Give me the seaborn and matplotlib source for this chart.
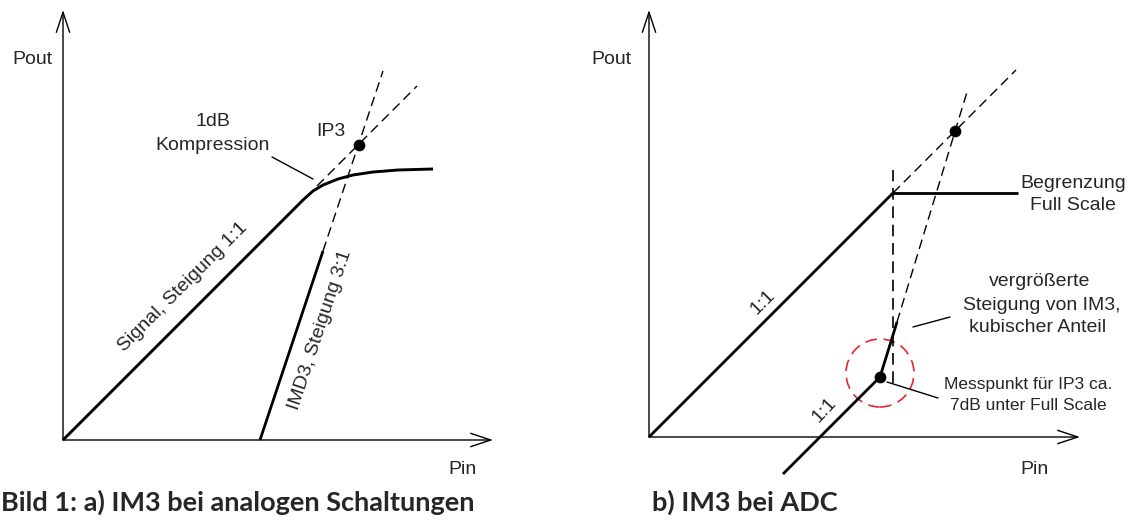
import matplotlib
matplotlib.use("Agg")
import matplotlib.pyplot as plt
import seaborn as sns
from matplotlib.patches import Circle

# ---- Panel a): analogue circuit (Pin / Pout in relative dB units) ----
signal_a_x = [0, 240, 250, 260, 275, 290, 310, 335, 370]
signal_a_y = [0, 240, 249, 255, 261, 265, 268, 270, 271]
signal_ext_a_x = [254, 354]
signal_ext_a_y = [254, 354]
imd3_a_x = [197, 260]
imd3_a_y = [0, 189]
imd3_ext_a_x = [260, 320]
imd3_ext_a_y = [189, 369]
ip3_a = (295.5, 295.5)

# ---- Panel b): ADC ----
signal_b_x = [0, 244]
signal_b_y = [0, 244]
fullscale_b_x = [244, 369]
fullscale_b_y = [244, 244]
signal_ext_b_x = [244, 367]
signal_ext_b_y = [244, 367]
fs_marker_x = [244, 244]
fs_marker_y = [54, 267]
im3_low_x = [134, 231]
im3_low_y = [-37, 60]
im3_steep_x = [231, 248]
im3_steep_y = [60, 115]
im3_ext_x = [248, 318]
im3_ext_y = [115, 345]
ip3_b = (306, 306)
meas_b = (231, 60)

sns.set_theme(style="white")
plt.rcParams["font.family"] = ["Liberation Sans", "DejaVu Sans"]

W, H = 1131, 522
fig = plt.figure(figsize=(W / 100, H / 100), dpi=100)
fig.patch.set_facecolor("white")

ax_a = fig.add_axes([0, 0, 0.5, 1])
ax_b = fig.add_axes([0.5, 0, 0.5, 1])
ax_a.set_xlim(-63, 502.5)
ax_a.set_ylim(-82, 440)
ax_b.set_xlim(-83.5, 482)
ax_b.set_ylim(-85, 437)
for ax in (ax_a, ax_b):
    ax.set_axis_off()

DASH = (7, 4)
TXT = 14


def axis_arrows(ax, xmax, ymax):
    style = "->,head_length=1.45,head_width=0.48"
    for end in [(xmax, 0), (0, ymax)]:
        ax.annotate("", xy=end, xytext=(0, 0),
                    arrowprops=dict(arrowstyle=style, lw=1.0, color="black",
                                    shrinkA=0, shrinkB=0, mutation_scale=10))


def solid(ax, x, y, lw=2.0):
    sns.lineplot(x=x, y=y, ax=ax, sort=False, estimator=None,
                 color="black", lw=lw, solid_capstyle="butt")


def dashed(ax, x, y, lw=1.0):
    sns.lineplot(x=x, y=y, ax=ax, sort=False, estimator=None,
                 color="black", lw=lw, dashes=False, linestyle=(0, DASH))


# ----- panel a -----
axis_arrows(ax_a, 430, 430)
solid(ax_a, signal_a_x, signal_a_y, lw=2.1)
dashed(ax_a, signal_ext_a_x, signal_ext_a_y)
solid(ax_a, imd3_a_x, imd3_a_y, lw=2.0)
dashed(ax_a, imd3_ext_a_x, imd3_ext_a_y)
ax_a.scatter([ip3_a[0]], [ip3_a[1]], s=55, color="black", zorder=5)
ax_a.plot([209, 250], [283, 261], color="black", lw=1.0)

ax_a.text(-31, 380, "Pout", fontsize=TXT, ha="center", va="center")
ax_a.text(400, -30, "Pin", fontsize=TXT, ha="center", va="center")
ax_a.text(150, 318, "1dB", fontsize=TXT, ha="center", va="center")
ax_a.text(150, 295, "Kompression", fontsize=TXT, ha="center", va="center")
ax_a.text(268, 308, "IP3", fontsize=TXT, ha="center", va="center")
ax_a.text(120, 153, "Signal, Steigung 1:1", fontsize=TXT, ha="center",
          va="center", rotation=45, rotation_mode="anchor")
ax_a.text(257, 110, "IMD3, Steigung 3:1", fontsize=TXT, ha="center",
          va="center", rotation=71.6, rotation_mode="anchor")

# ----- panel b -----
axis_arrows(ax_b, 431, 427)
solid(ax_b, signal_b_x, signal_b_y, lw=2.0)
solid(ax_b, fullscale_b_x, fullscale_b_y, lw=2.0)
dashed(ax_b, signal_ext_b_x, signal_ext_b_y)
dashed(ax_b, fs_marker_x, fs_marker_y, lw=1.2)
solid(ax_b, im3_low_x, im3_low_y, lw=2.0)
solid(ax_b, im3_steep_x, im3_steep_y, lw=2.0)
dashed(ax_b, im3_ext_x, im3_ext_y)
ax_b.scatter([ip3_b[0], meas_b[0]], [ip3_b[1], meas_b[1]], s=55,
             color="black", zorder=5)
ax_b.add_patch(Circle((meas_b[0], meas_b[1] + 4), 34, fill=False,
                      edgecolor="#e8262a", lw=1.2, linestyle=(0, (7, 4))))
ax_b.plot([264, 301], [110, 120], color="black", lw=1.0)
ax_b.plot([238, 289], [55, 39], color="black", lw=1.0)

ax_b.text(-38, 377, "Pout", fontsize=TXT, ha="center", va="center")
ax_b.text(386, -33, "Pin", fontsize=TXT, ha="center", va="center")
ax_b.text(424, 254, "Begrenzung", fontsize=TXT, ha="center", va="center")
ax_b.text(424, 232, "Full Scale", fontsize=TXT, ha="center", va="center")
ax_b.text(391, 156, "vergrößerte", fontsize=TXT, ha="center", va="center")
ax_b.text(393, 132, "Steigung von IM3,", fontsize=TXT, ha="center", va="center")
ax_b.text(389, 110, "kubischer Anteil", fontsize=TXT, ha="center", va="center")
ax_b.text(379, 52, "Messpunkt für IP3 ca.", fontsize=12.5, ha="center", va="center")
ax_b.text(379, 32, "7dB unter Full Scale", fontsize=12.5, ha="center", va="center")
ax_b.text(114, 135, "1:1", fontsize=TXT, ha="center", va="center",
          rotation=45, rotation_mode="anchor")
ax_b.text(175, 27, "1:1", fontsize=TXT, ha="center", va="center",
          rotation=47, rotation_mode="anchor")

# ----- captions -----
cap = dict(fontsize=19.5, fontweight="bold", va="center",
           family=["Lato", "DejaVu Sans"])
fig.text(1 / W, 1 - 502 / H, "Bild 1: a) IM3 bei analogen Schaltungen",
         ha="left", **cap)
fig.text(652 / W, 1 - 502 / H, "b) IM3 bei ADC", ha="left", **cap)

fig.savefig("out.png", dpi=100, facecolor="white")
